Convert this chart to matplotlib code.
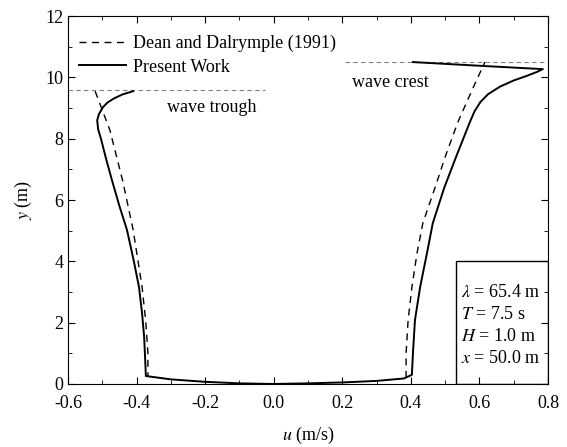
import matplotlib
matplotlib.use("Agg")
import matplotlib.pyplot as plt
import matplotlib.patches as mpatches
from matplotlib.ticker import MultipleLocator

plt.rcParams["font.family"] = ["Liberation Serif", "DejaVu Serif"]
plt.rcParams["mathtext.fontset"] = "stix"

# --- data ---
# Present Work, trough (left branch), from free surface down
trough_y = [9.55, 9.45, 9.32, 9.18, 9.03, 8.80, 8.60, 8.30, 8.00, 7.30, 6.65, 5.80, 5.02, 4.00, 3.16, 2.30, 1.53, 0.80, 0.26]
trough_u = [-0.410, -0.440, -0.465, -0.485, -0.498, -0.510, -0.515, -0.512, -0.504, -0.488, -0.472, -0.450, -0.428, -0.408, -0.393, -0.384, -0.378, -0.375, -0.373]

# Present Work, bottom boundary layer
bottom_u = [-0.373, -0.30, -0.20, -0.10, 0.00, 0.10, 0.20, 0.30, 0.38, 0.403]
bottom_y = [0.25, 0.15, 0.07, 0.02, 0.00, 0.02, 0.05, 0.10, 0.18, 0.30]

# Present Work, crest (right branch), from bottom up
crest_y = [0.30, 1.00, 2.09, 3.16, 4.27, 5.25, 6.39, 7.47, 8.54, 8.90, 9.20, 9.45, 9.70, 9.90, 10.05, 10.18, 10.27, 10.38, 10.50]
crest_u = [0.403, 0.406, 0.412, 0.427, 0.447, 0.464, 0.497, 0.534, 0.572, 0.586, 0.603, 0.625, 0.660, 0.700, 0.738, 0.768, 0.785, 0.600, 0.406]

# Dean and Dalrymple (1991)
dd_left_y = [9.55, 8.28, 6.60, 5.02, 3.16, 2.00, 1.00, 0.26]
dd_left_u = [-0.521, -0.478, -0.440, -0.410, -0.384, -0.373, -0.367, -0.367]
dd_right_y = [0.20, 1.00, 2.09, 3.16, 4.27, 5.25, 6.39, 7.47, 8.54, 9.65, 10.50]
dd_right_u = [0.386, 0.386, 0.392, 0.403, 0.418, 0.435, 0.470, 0.502, 0.537, 0.581, 0.616]

trough_level = 9.6
crest_level = 10.5

params = [r"$\lambda$ = 65.4 m", r"$T$ = 7.5 s", r"$H$ = 1.0 m", r"$x$ = 50.0 m"]

fs = 13

fig = plt.figure(figsize=(5.67, 4.47), dpi=100)
ax = fig.add_axes([0.12, 0.141, 0.8465, 0.823])

ax.plot([-0.6, -0.025], [trough_level] * 2, color="0.5", lw=0.8, dashes=(4, 3))
ax.plot([0.208, 0.8], [crest_level] * 2, color="0.5", lw=0.8, dashes=(4, 3))

ax.plot(dd_left_u, dd_left_y, color="black", lw=1.0, dashes=(5, 4), label="Dean and Dalrymple (1991)")
ax.plot(dd_right_u, dd_right_y, color="black", lw=1.0, dashes=(5, 4))

solid_u = trough_u + bottom_u[1:] + crest_u[1:]
solid_y = trough_y + bottom_y[1:] + crest_y[1:]
ax.plot(solid_u, solid_y, color="black", lw=1.4, label="Present Work")

ax.text(-0.31, 9.03, "wave trough", fontsize=fs, va="center", ha="left")
ax.text(0.228, 9.85, "wave crest", fontsize=fs, va="center", ha="left")

ax.add_patch(mpatches.Rectangle((0.531, 0), 0.27, 4.0, fill=False, edgecolor="black", lw=1.0, zorder=3))
for i, s in enumerate(params):
    ax.text(0.547, 2.98 - i * 0.72, s, fontsize=fs, va="center", ha="left")

ax.set_xlim(-0.6, 0.8)
ax.set_ylim(0, 12)
ax.xaxis.set_major_locator(MultipleLocator(0.2))
ax.xaxis.set_minor_locator(MultipleLocator(0.1))
ax.yaxis.set_major_locator(MultipleLocator(2))
ax.yaxis.set_minor_locator(MultipleLocator(1))
ax.tick_params(which="both", direction="in", top=True, right=True, labelsize=fs)
ax.tick_params(which="major", length=5)
ax.tick_params(which="minor", length=3)
ax.tick_params(axis="x", pad=8)
ax.set_xticklabels([f"{v:.1f}" for v in ax.get_xticks()])

ax.set_xlabel(r"$u$ (m/s)", fontsize=fs, labelpad=9)
ax.set_ylabel(r"$y$ (m)", fontsize=fs, labelpad=8)

ax.legend(loc="upper left", frameon=False, fontsize=fs, handlelength=2.6,
          bbox_to_anchor=(0.0, 0.978), borderaxespad=0.2, handletextpad=0.4,
          labelspacing=0.35)

fig.savefig("out.png", dpi=100)
